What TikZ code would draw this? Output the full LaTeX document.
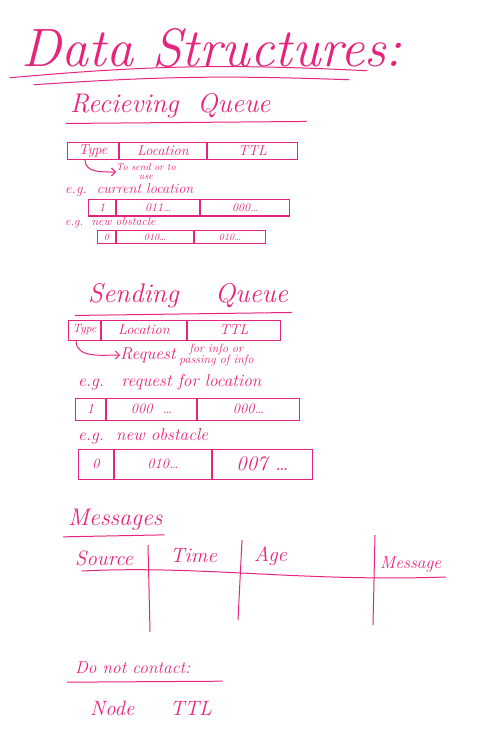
\documentclass[tikz,border=0pt]{standalone}
\usepackage{tikz}
\usetikzlibrary{arrows.meta,positioning}
\definecolor{ink}{RGB}{230,35,125}

\begin{document}
\begin{tikzpicture}[
    x=1pt, y=-1pt,
    node distance=0pt,
    every node/.style={text=ink, font=\itshape},
    cell/.style={draw=ink, line width=1pt, anchor=west, inner sep=1pt, minimum height=17pt, font=\itshape\Large},
    label/.style={anchor=west, inner sep=0pt, font=\itshape\Large},
    heading/.style={anchor=west, inner sep=0pt, font=\itshape\fontsize{27}{27}\selectfont},
    pen/.style={draw=ink, line width=1pt},
    arrow/.style={pen, -{Straight Barb[length=4pt]}}
]
\useasboundingbox (0,0) rectangle (489,751);

% title
\node[inner sep=0pt, font=\itshape\fontsize{54}{54}\selectfont] (title) at (212,48) {Data Structures:};
\draw[pen] ([xshift=-12pt,yshift=-10pt]title.south west) to[bend left=4] ([xshift=-35pt,yshift=-3pt]title.south east);
\draw[pen] ([xshift=12pt,yshift=-17pt]title.south west) to[bend left=3] ([xshift=-53pt,yshift=-12pt]title.south east);

% receiving queue
\node[heading] (recv) at (70,106) {Recieving\ \ Queue};
\draw[pen] ([xshift=-4pt,yshift=-5pt]recv.south west) -- ([xshift=36pt,yshift=-3pt]recv.south east);

\node[cell, minimum width=51pt] (rtype) at (67,151) {Type};
\node[cell, right=of rtype, minimum width=87pt] (rloc) {Location};
\node[cell, right=of rloc, minimum width=90pt] (rttl) {TTL};

\node[anchor=west, inner sep=0pt, align=center, font=\itshape\fontsize{10}{9}\selectfont] (rnote) at (116,172) {To send or to\\use};
\draw[arrow] ([xshift=-8pt]rtype.south) to[out=-90, in=180] (rnote.west);

\node[label] (reg1) at (65,190) {e.g.\ \ current location};
\node[cell, minimum width=27pt, minimum height=16pt, font=\itshape\large] (r1a) at (88,208) {1};
\node[cell, right=of r1a, minimum width=83pt, minimum height=16pt, font=\itshape\large] (r1b) {011\dots};
\node[cell, right=of r1b, minimum width=89pt, minimum height=16pt, font=\itshape\large] (r1c) {000\dots};

\node[label, font=\itshape\large] (reg2) at (65,223) {e.g.\ \ new obstacle};
\node[cell, minimum width=18pt, minimum height=13pt, font=\itshape\normalsize] (r2a) at (97,237) {0};
\node[cell, right=of r2a, minimum width=77pt, minimum height=13pt, font=\itshape\normalsize] (r2b) {010\dots};
\node[cell, right=of r2b, minimum width=71pt, minimum height=13pt, font=\itshape\normalsize] (r2c) {010\dots};

% sending queue
\node[heading] (send) at (88,296) {Sending\quad\ Queue};
\draw[pen] ([xshift=-13pt,yshift=-7pt]send.south west) -- ([xshift=4pt,yshift=-4pt]send.south east);

\node[cell, minimum width=32pt, minimum height=20pt, font=\itshape\large] (stype) at (68,330) {Type};
\node[cell, right=of stype, minimum width=85pt, minimum height=20pt] (sloc) {Location};
\node[cell, right=of sloc, minimum width=93pt, minimum height=20pt] (sttl) {TTL};

\node[anchor=west, inner sep=0pt, font=\itshape\LARGE] (req) at (120,355) {Request};
\node[right=3pt of req, inner sep=0pt, align=center, font=\itshape\fontsize{12}{11}\selectfont] (reqmore) {for info or\\passing of info};
\draw[arrow] ([xshift=8pt]stype.south west) to[out=-90, in=180] (req.west);

\node[label, font=\itshape\LARGE] (seg1) at (78,382) {e.g.\quad request for location};
\node[cell, minimum width=30pt, minimum height=22pt] (s1a) at (75,409) {1};
\node[cell, right=of s1a, minimum width=90pt, minimum height=22pt] (s1b) {000\ \ \dots};
\node[cell, right=of s1b, minimum width=102pt, minimum height=22pt] (s1c) {000\dots};

\node[label, font=\itshape\LARGE] (seg2) at (78,436) {e.g.\ \ new obstacle};
\node[cell, minimum width=35pt, minimum height=30pt] (s2a) at (78,464) {0};
\node[cell, right=of s2a, minimum width=97pt, minimum height=30pt] (s2b) {010\dots};
\node[cell, right=of s2b, minimum width=100pt, minimum height=30pt, font=\itshape\huge] (s2c) {007 \dots};

% messages
\node[heading, font=\itshape\fontsize{24}{24}\selectfont] (msgs) at (68,520) {Messages};
\draw[pen] ([xshift=-5pt,yshift=-6pt]msgs.south west) -- ([xshift=2pt,yshift=-4pt]msgs.south east);

\node[label, font=\itshape\huge] (msrc) at (75,558) {Source};
\node[label, font=\itshape\huge] (mtime) at (170,556) {Time};
\node[label, font=\itshape\huge] (mage) at (254,556) {Age};
\node[label, font=\itshape\LARGE] (mmsg) at (380,564) {Message};

\coordinate (hl) at (82,571);
\coordinate (hr) at (446,577);
\draw[pen] (hl) .. controls (200,565) and (300,582) .. (hr);
\coordinate (v1t) at (148,545);
\coordinate (v1b) at (150,632);
\coordinate (v2t) at (242,540);
\coordinate (v2b) at (238,620);
\coordinate (v3t) at (375,535);
\coordinate (v3b) at (373,625);
\draw[pen] (v1t) -- (v1b);
\draw[pen] (v2t) -- (v2b);
\draw[pen] (v3t) -- (v3b);

% do not contact
\node[label, font=\itshape\LARGE] (dnc) at (75,668) {Do not contact:};
\draw[pen] ([xshift=-8pt,yshift=-8pt]dnc.south west) -- ([xshift=32pt,yshift=-7pt]dnc.south east);
\node[label, font=\itshape\huge] (dnode) at (90,708) {Node};
\node[label, font=\itshape\huge] (dttl) at (170,708) {TTL};
\end{tikzpicture}
\end{document}
